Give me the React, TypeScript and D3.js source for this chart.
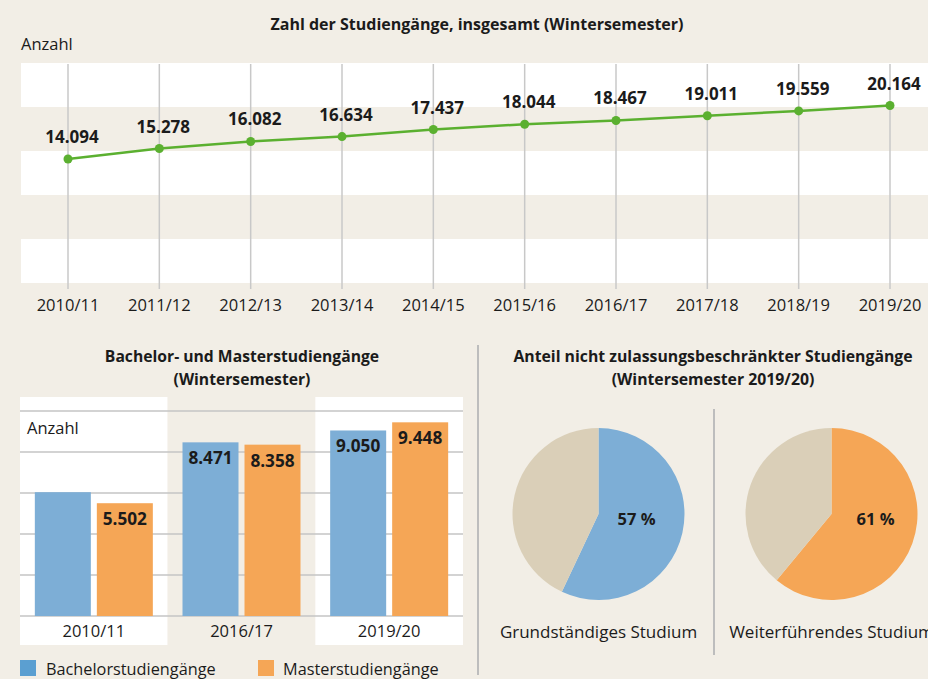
import React from "react";
import * as d3 from "d3";

const years = ["2010/11","2011/12","2012/13","2013/14","2014/15","2015/16","2016/17","2017/18","2018/19","2019/20"];
const totals = [14094,15278,16082,16634,17437,18044,18467,19011,19559,20164];

const barCats = ["2010/11","2016/17","2019/20"];
const bachelor = [6040,8471,9050];
const master = [5502,8358,9448];
const bachelorLabels = [false,true,true];
const seriesNames = ["Bachelorstudiengänge","Masterstudiengänge"];

const pieNames = ["Grundständiges Studium","Weiterführendes Studium"];
const pieShares = [57,61];

const BG = "#f2eee6";
const TXT = "#1b1b1b";
const GREEN = "#5bb030";
const BLUE = "#7daed6";
const ORANGE = "#f5a656";
const BLUE_LEG = "#5b9fd1";
const PIE_REST = "#dacfb8";
const GRID = "#c8c8c8";
const FONT = "'Open Sans', sans-serif";

const fmt = (v: number) => d3.format(",")(v).replace(/,/g, ".");

export default function App() {
  // top line chart
  const x = d3.scalePoint<string>().domain(years).range([68, 890]);
  const y = d3.scaleLinear().domain([0, 25000]).range([283, 63]);
  const bandTicks = d3.range(0, 25000, 5000);
  const line = d3.line<number>().x((_, i) => x(years[i])!).y((d) => y(d));

  // bar chart
  const xb = d3.scaleBand<string>().domain(barCats).range([20, 463]);
  const yb = d3.scaleLinear().domain([0, 10000]).range([616, 411]);
  const barW = 56, gap = 6;
  const gridB = d3.range(0, 10001, 2000);

  // pies
  const pie = d3.pie<number>().sort(null).value((d) => d);
  const arc = d3.arc<d3.PieArcDatum<number>>().innerRadius(0).outerRadius(86);
  const pieCx = [598.5, 831.5];
  const pieCy = 514;
  const pieLabelDx = [38, 44];
  const pieColors = [BLUE, ORANGE];

  return (
    <svg width={928} height={679} style={{ position: "absolute", left: 0, top: 0, background: BG }} fontFamily={FONT}>
      <rect width={928} height={679} fill={BG} />
      {/* top chart */}
      <text x={477} y={29.5} textAnchor="middle" fontWeight="bold" fontSize={16} fill={TXT}>Zahl der Studiengänge, insgesamt (Wintersemester)</text>
      <text x={21} y={50} fontSize={16.5} fill={TXT}>Anzahl</text>
      {bandTicks.map((t, i) => (
        <rect key={t} x={21} width={907} y={y(t + 5000)} height={y(t) - y(t + 5000)} fill={i % 2 === 0 ? "#ffffff" : BG} />
      ))}
      {years.map((yr) => (
        <line key={yr} x1={x(yr)} x2={x(yr)} y1={64} y2={289} stroke={GRID} strokeWidth={1.5} />
      ))}
      <path d={line(totals) || ""} fill="none" stroke={GREEN} strokeWidth={2.5} />
      {totals.map((v, i) => (
        <g key={i}>
          <circle cx={x(years[i])} cy={y(v)} r={4.5} fill={GREEN} />
          <text x={x(years[i])! + 4} y={y(v) - 16} textAnchor="middle" fontWeight="bold" fontSize={17} fill={TXT}>{fmt(v)}</text>
        </g>
      ))}
      {years.map((yr) => (
        <text key={yr} x={x(yr)} y={311} textAnchor="middle" fontSize={16.5} fill={TXT}>{yr}</text>
      ))}

      {/* bar chart */}
      <text x={242} y={362} textAnchor="middle" fontWeight="bold" fontSize={15.7} fill={TXT}>Bachelor- und Masterstudiengänge</text>
      <text x={242} y={385} textAnchor="middle" fontWeight="bold" fontSize={15.7} fill={TXT}>(Wintersemester)</text>
      {barCats.map((c, i) => (
        <rect key={c} x={xb(c)} width={xb.bandwidth()} y={397} height={248} fill={i % 2 === 0 ? "#ffffff" : BG} />
      ))}
      {gridB.map((g) => (
        <line key={g} x1={20} x2={463} y1={yb(g)} y2={yb(g)} stroke="#c4c4c4" strokeWidth={1.5} />
      ))}
      <text x={27} y={434} fontSize={16.5} fill={TXT}>Anzahl</text>
      {barCats.map((c, i) => {
        const cx = xb(c)! + xb.bandwidth() / 2;
        const bx = cx - gap / 2 - barW;
        const mx = cx + gap / 2;
        return (
          <g key={c}>
            <rect x={bx} width={barW} y={yb(bachelor[i])} height={yb(0) - yb(bachelor[i])} fill={BLUE} />
            <rect x={mx} width={barW} y={yb(master[i])} height={yb(0) - yb(master[i])} fill={ORANGE} />
            {bachelorLabels[i] && (
              <text x={bx + barW / 2} y={yb(bachelor[i]) + 22} textAnchor="middle" fontWeight="bold" fontSize={17.2} fill={TXT}>{fmt(bachelor[i])}</text>
            )}
            <text x={mx + barW / 2} y={yb(master[i]) + 22} textAnchor="middle" fontWeight="bold" fontSize={17.2} fill={TXT}>{fmt(master[i])}</text>
            <text x={cx} y={637} textAnchor="middle" fontSize={16.5} fill={TXT}>{c}</text>
          </g>
        );
      })}
      {/* legend */}
      <rect x={20} y={660} width={16} height={16} fill={BLUE_LEG} />
      <text x={46} y={675} fontSize={16.3} fill={TXT}>{seriesNames[0]}</text>
      <rect x={258} y={660} width={16} height={16} fill={ORANGE} />
      <text x={283} y={675} fontSize={16.3} fill={TXT}>{seriesNames[1]}</text>

      {/* separators */}
      <line x1={478} x2={478} y1={345} y2={675} stroke="#bdbdbd" strokeWidth={2} />
      <line x1={714} x2={714} y1={409} y2={655} stroke="#bdbdbd" strokeWidth={2} />

      {/* pies */}
      <text x={713} y={362} textAnchor="middle" fontWeight="bold" fontSize={15.8} fill={TXT}>Anteil nicht zulassungsbeschränkter Studiengänge</text>
      <text x={713} y={385} textAnchor="middle" fontWeight="bold" fontSize={15.8} fill={TXT}>(Wintersemester 2019/20)</text>
      {pieShares.map((s, k) => {
        const arcs = pie([s, 100 - s]);
        return (
          <g key={k} transform={`translate(${pieCx[k]},${pieCy})`}>
            {arcs.map((a, j) => (
              <path key={j} d={arc(a) || ""} fill={j === 0 ? pieColors[k] : PIE_REST} />
            ))}
            <text x={pieLabelDx[k]} y={11} textAnchor="middle" fontWeight="bold" fontSize={16.5} fill={TXT}>{s} %</text>
            <text x={0} y={124} textAnchor="middle" fontSize={17} fill={TXT}>{pieNames[k]}</text>
          </g>
        );
      })}
    </svg>
  );
}
